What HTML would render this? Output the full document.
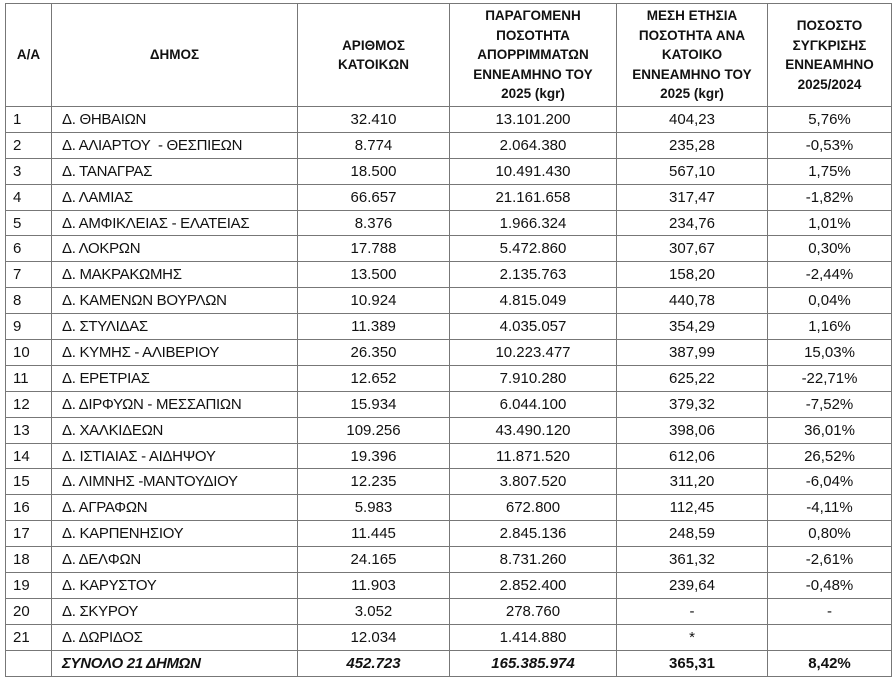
<!DOCTYPE html>
<html><head><meta charset="utf-8"><style>
body{margin:0;background:#fff;width:896px;height:682px;overflow:hidden}
table{position:absolute;left:5px;top:3px;border-collapse:collapse;table-layout:fixed;font-family:"Liberation Sans","DejaVu Sans",sans-serif;color:#111;font-size:15px}
td,th{border:1px solid #777;padding:0;overflow:hidden;white-space:nowrap;box-sizing:border-box}
th{font-size:13.5px;font-weight:bold;line-height:19.5px;height:103px;text-align:center}
td{height:25.9px;line-height:20px;vertical-align:top;padding-top:3px;text-align:center}
td.l{text-align:left;padding-left:7px}
td.d{text-align:left;padding-left:10px;letter-spacing:-0.3px}
tr.t td{font-weight:bold;font-style:italic}
</style></head><body>
<table>
<colgroup><col style="width:46px"><col style="width:246px"><col style="width:152px"><col style="width:167px"><col style="width:151px"><col style="width:124px"></colgroup>
<tr><th>Α/Α</th><th>ΔΗΜΟΣ</th><th>ΑΡΙΘΜΟΣ<br>ΚΑΤΟΙΚΩΝ</th><th>ΠΑΡΑΓΟΜΕΝΗ<br>ΠΟΣΟΤΗΤΑ<br>ΑΠΟΡΡΙΜΜΑΤΩΝ<br>ΕΝΝΕΑΜΗΝΟ ΤΟΥ<br>2025 (kgr)</th><th>ΜΕΣΗ ΕΤΗΣΙΑ<br>ΠΟΣΟΤΗΤΑ ΑΝΑ<br>ΚΑΤΟΙΚΟ<br>ΕΝΝΕΑΜΗΝΟ ΤΟΥ<br>2025 (kgr)</th><th>ΠΟΣΟΣΤΟ<br>ΣΥΓΚΡΙΣΗΣ<br>ΕΝΝΕΑΜΗΝΟ<br>2025/2024</th></tr>
<tr><td class="l">1</td><td class="d">Δ. ΘΗΒΑΙΩΝ</td><td>32.410</td><td>13.101.200</td><td>404,23</td><td>5,76%</td></tr>
<tr><td class="l">2</td><td class="d">Δ. ΑΛΙΑΡΤΟΥ &nbsp;- ΘΕΣΠΙΕΩΝ</td><td>8.774</td><td>2.064.380</td><td>235,28</td><td>-0,53%</td></tr>
<tr><td class="l">3</td><td class="d">Δ. ΤΑΝΑΓΡΑΣ</td><td>18.500</td><td>10.491.430</td><td>567,10</td><td>1,75%</td></tr>
<tr><td class="l">4</td><td class="d">Δ. ΛΑΜΙΑΣ</td><td>66.657</td><td>21.161.658</td><td>317,47</td><td>-1,82%</td></tr>
<tr><td class="l">5</td><td class="d">Δ. ΑΜΦΙΚΛΕΙΑΣ - ΕΛΑΤΕΙΑΣ</td><td>8.376</td><td>1.966.324</td><td>234,76</td><td>1,01%</td></tr>
<tr><td class="l">6</td><td class="d">Δ. ΛΟΚΡΩΝ</td><td>17.788</td><td>5.472.860</td><td>307,67</td><td>0,30%</td></tr>
<tr><td class="l">7</td><td class="d">Δ. ΜΑΚΡΑΚΩΜΗΣ</td><td>13.500</td><td>2.135.763</td><td>158,20</td><td>-2,44%</td></tr>
<tr><td class="l">8</td><td class="d">Δ. ΚΑΜΕΝΩΝ ΒΟΥΡΛΩΝ</td><td>10.924</td><td>4.815.049</td><td>440,78</td><td>0,04%</td></tr>
<tr><td class="l">9</td><td class="d">Δ. ΣΤΥΛΙΔΑΣ</td><td>11.389</td><td>4.035.057</td><td>354,29</td><td>1,16%</td></tr>
<tr><td class="l">10</td><td class="d">Δ. ΚΥΜΗΣ - ΑΛΙΒΕΡΙΟΥ</td><td>26.350</td><td>10.223.477</td><td>387,99</td><td>15,03%</td></tr>
<tr><td class="l">11</td><td class="d">Δ. ΕΡΕΤΡΙΑΣ</td><td>12.652</td><td>7.910.280</td><td>625,22</td><td>-22,71%</td></tr>
<tr><td class="l">12</td><td class="d">Δ. ΔΙΡΦΥΩΝ - ΜΕΣΣΑΠΙΩΝ</td><td>15.934</td><td>6.044.100</td><td>379,32</td><td>-7,52%</td></tr>
<tr><td class="l">13</td><td class="d">Δ. ΧΑΛΚΙΔΕΩΝ</td><td>109.256</td><td>43.490.120</td><td>398,06</td><td>36,01%</td></tr>
<tr><td class="l">14</td><td class="d">Δ. ΙΣΤΙΑΙΑΣ - ΑΙΔΗΨΟΥ</td><td>19.396</td><td>11.871.520</td><td>612,06</td><td>26,52%</td></tr>
<tr><td class="l">15</td><td class="d">Δ. ΛΙΜΝΗΣ -ΜΑΝΤΟΥΔΙΟΥ</td><td>12.235</td><td>3.807.520</td><td>311,20</td><td>-6,04%</td></tr>
<tr><td class="l">16</td><td class="d">Δ. ΑΓΡΑΦΩΝ</td><td>5.983</td><td>672.800</td><td>112,45</td><td>-4,11%</td></tr>
<tr><td class="l">17</td><td class="d">Δ. ΚΑΡΠΕΝΗΣΙΟΥ</td><td>11.445</td><td>2.845.136</td><td>248,59</td><td>0,80%</td></tr>
<tr><td class="l">18</td><td class="d">Δ. ΔΕΛΦΩΝ</td><td>24.165</td><td>8.731.260</td><td>361,32</td><td>-2,61%</td></tr>
<tr><td class="l">19</td><td class="d">Δ. ΚΑΡΥΣΤΟΥ</td><td>11.903</td><td>2.852.400</td><td>239,64</td><td>-0,48%</td></tr>
<tr><td class="l">20</td><td class="d">Δ. ΣΚΥΡΟΥ</td><td>3.052</td><td>278.760</td><td>-</td><td>-</td></tr>
<tr><td class="l">21</td><td class="d">Δ. ΔΩΡΙΔΟΣ</td><td>12.034</td><td>1.414.880</td><td>*</td><td></td></tr>
<tr class="t"><td></td><td class="d">ΣΥΝΟΛΟ 21 ΔΗΜΩΝ</td><td>452.723</td><td>165.385.974</td><td style="font-style:normal">365,31</td><td style="font-style:normal">8,42%</td></tr>
</table>
</body></html>
